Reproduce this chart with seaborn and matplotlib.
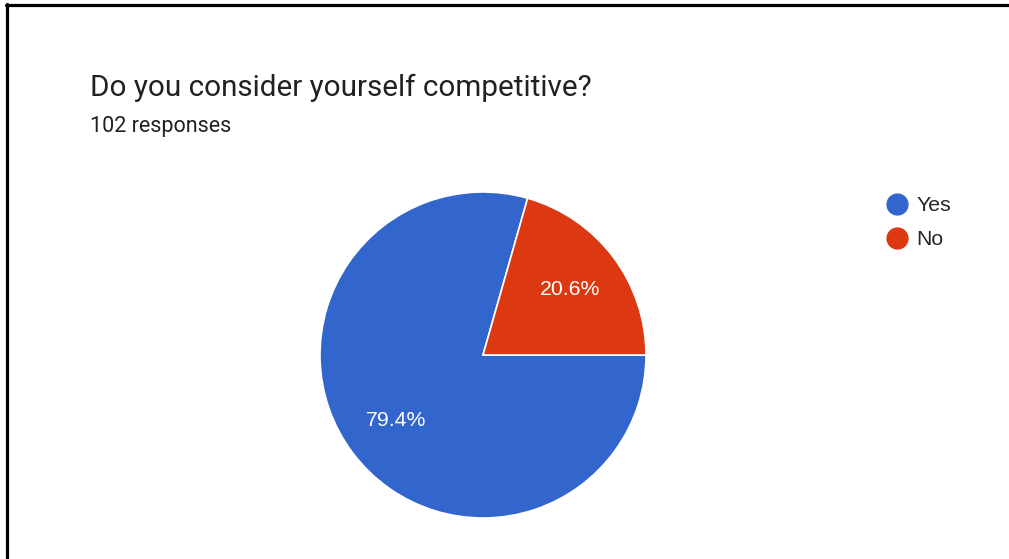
import matplotlib
matplotlib.use("Agg")
import matplotlib.pyplot as plt
from matplotlib.lines import Line2D
import seaborn as sns

# Data
categories = ["Yes", "No"]
counts = [81, 21]
total_responses = 102
title = "Do you consider yourself competitive?"
subtitle = f"{total_responses} responses"

sns.set_theme(style="white")
plt.rcParams['font.family'] = ['Roboto', 'DejaVu Sans']

W, H = 1009, 559
DPI = 100
fig = plt.figure(figsize=(W / DPI, H / DPI), dpi=DPI)
fig.patch.set_facecolor("white")

palette = sns.color_palette(["#3366CC", "#DC3912"])
label_font = ['Liberation Sans', 'DejaVu Sans']

# pie axes: center (483, 355) px from top-left, radius 163 px
cx, cy, r = 483, 355, 163
ax = fig.add_axes([(cx - r) / W, (H - cy - r) / H, 2 * r / W, 2 * r / H])
wedges, texts, autotexts = ax.pie(
    counts, colors=palette, startangle=0, counterclock=False,
    autopct="%1.1f%%", pctdistance=0.67,
    wedgeprops=dict(edgecolor="white", linewidth=1.2),
    textprops=dict(color="white", fontsize=15.3, family=label_font),
)
ax.set_xlim(-1, 1)
ax.set_ylim(-1, 1)
ax.set_aspect("auto")
ax.axis("off")

# Titles
fig.text(90 / W, 1 - 96 / H, title, fontsize=21.3, color="#202124",
         ha="left", va="baseline")
fig.text(90 / W, 1 - 132 / H, subtitle, fontsize=15.5, color="#202124",
         ha="left", va="baseline")

# Legend with circular markers
handles = [Line2D([0], [0], marker="o", linestyle="none", markersize=15,
                  markerfacecolor=c, markeredgecolor=c) for c in palette]
fig.legend(handles, categories, loc="upper left",
           bbox_to_anchor=(888 / W, 1 - 196 / H), frameon=False,
           prop=dict(family=label_font, size=15.3),
           handletextpad=0.48, labelspacing=0.71,
           handlelength=0.85, borderaxespad=0, borderpad=0)

# Screenshot border (top and left edges)
fig.add_artist(Line2D([6 / W, 1.0], [1 - 5 / H, 1 - 5 / H], color="black",
                      linewidth=2.3, transform=fig.transFigure))
fig.add_artist(Line2D([7 / W, 7 / W], [1 - 4 / H, 0.0], color="black",
                      linewidth=2.3, transform=fig.transFigure))

fig.savefig("out.png", dpi=DPI, facecolor="white")
